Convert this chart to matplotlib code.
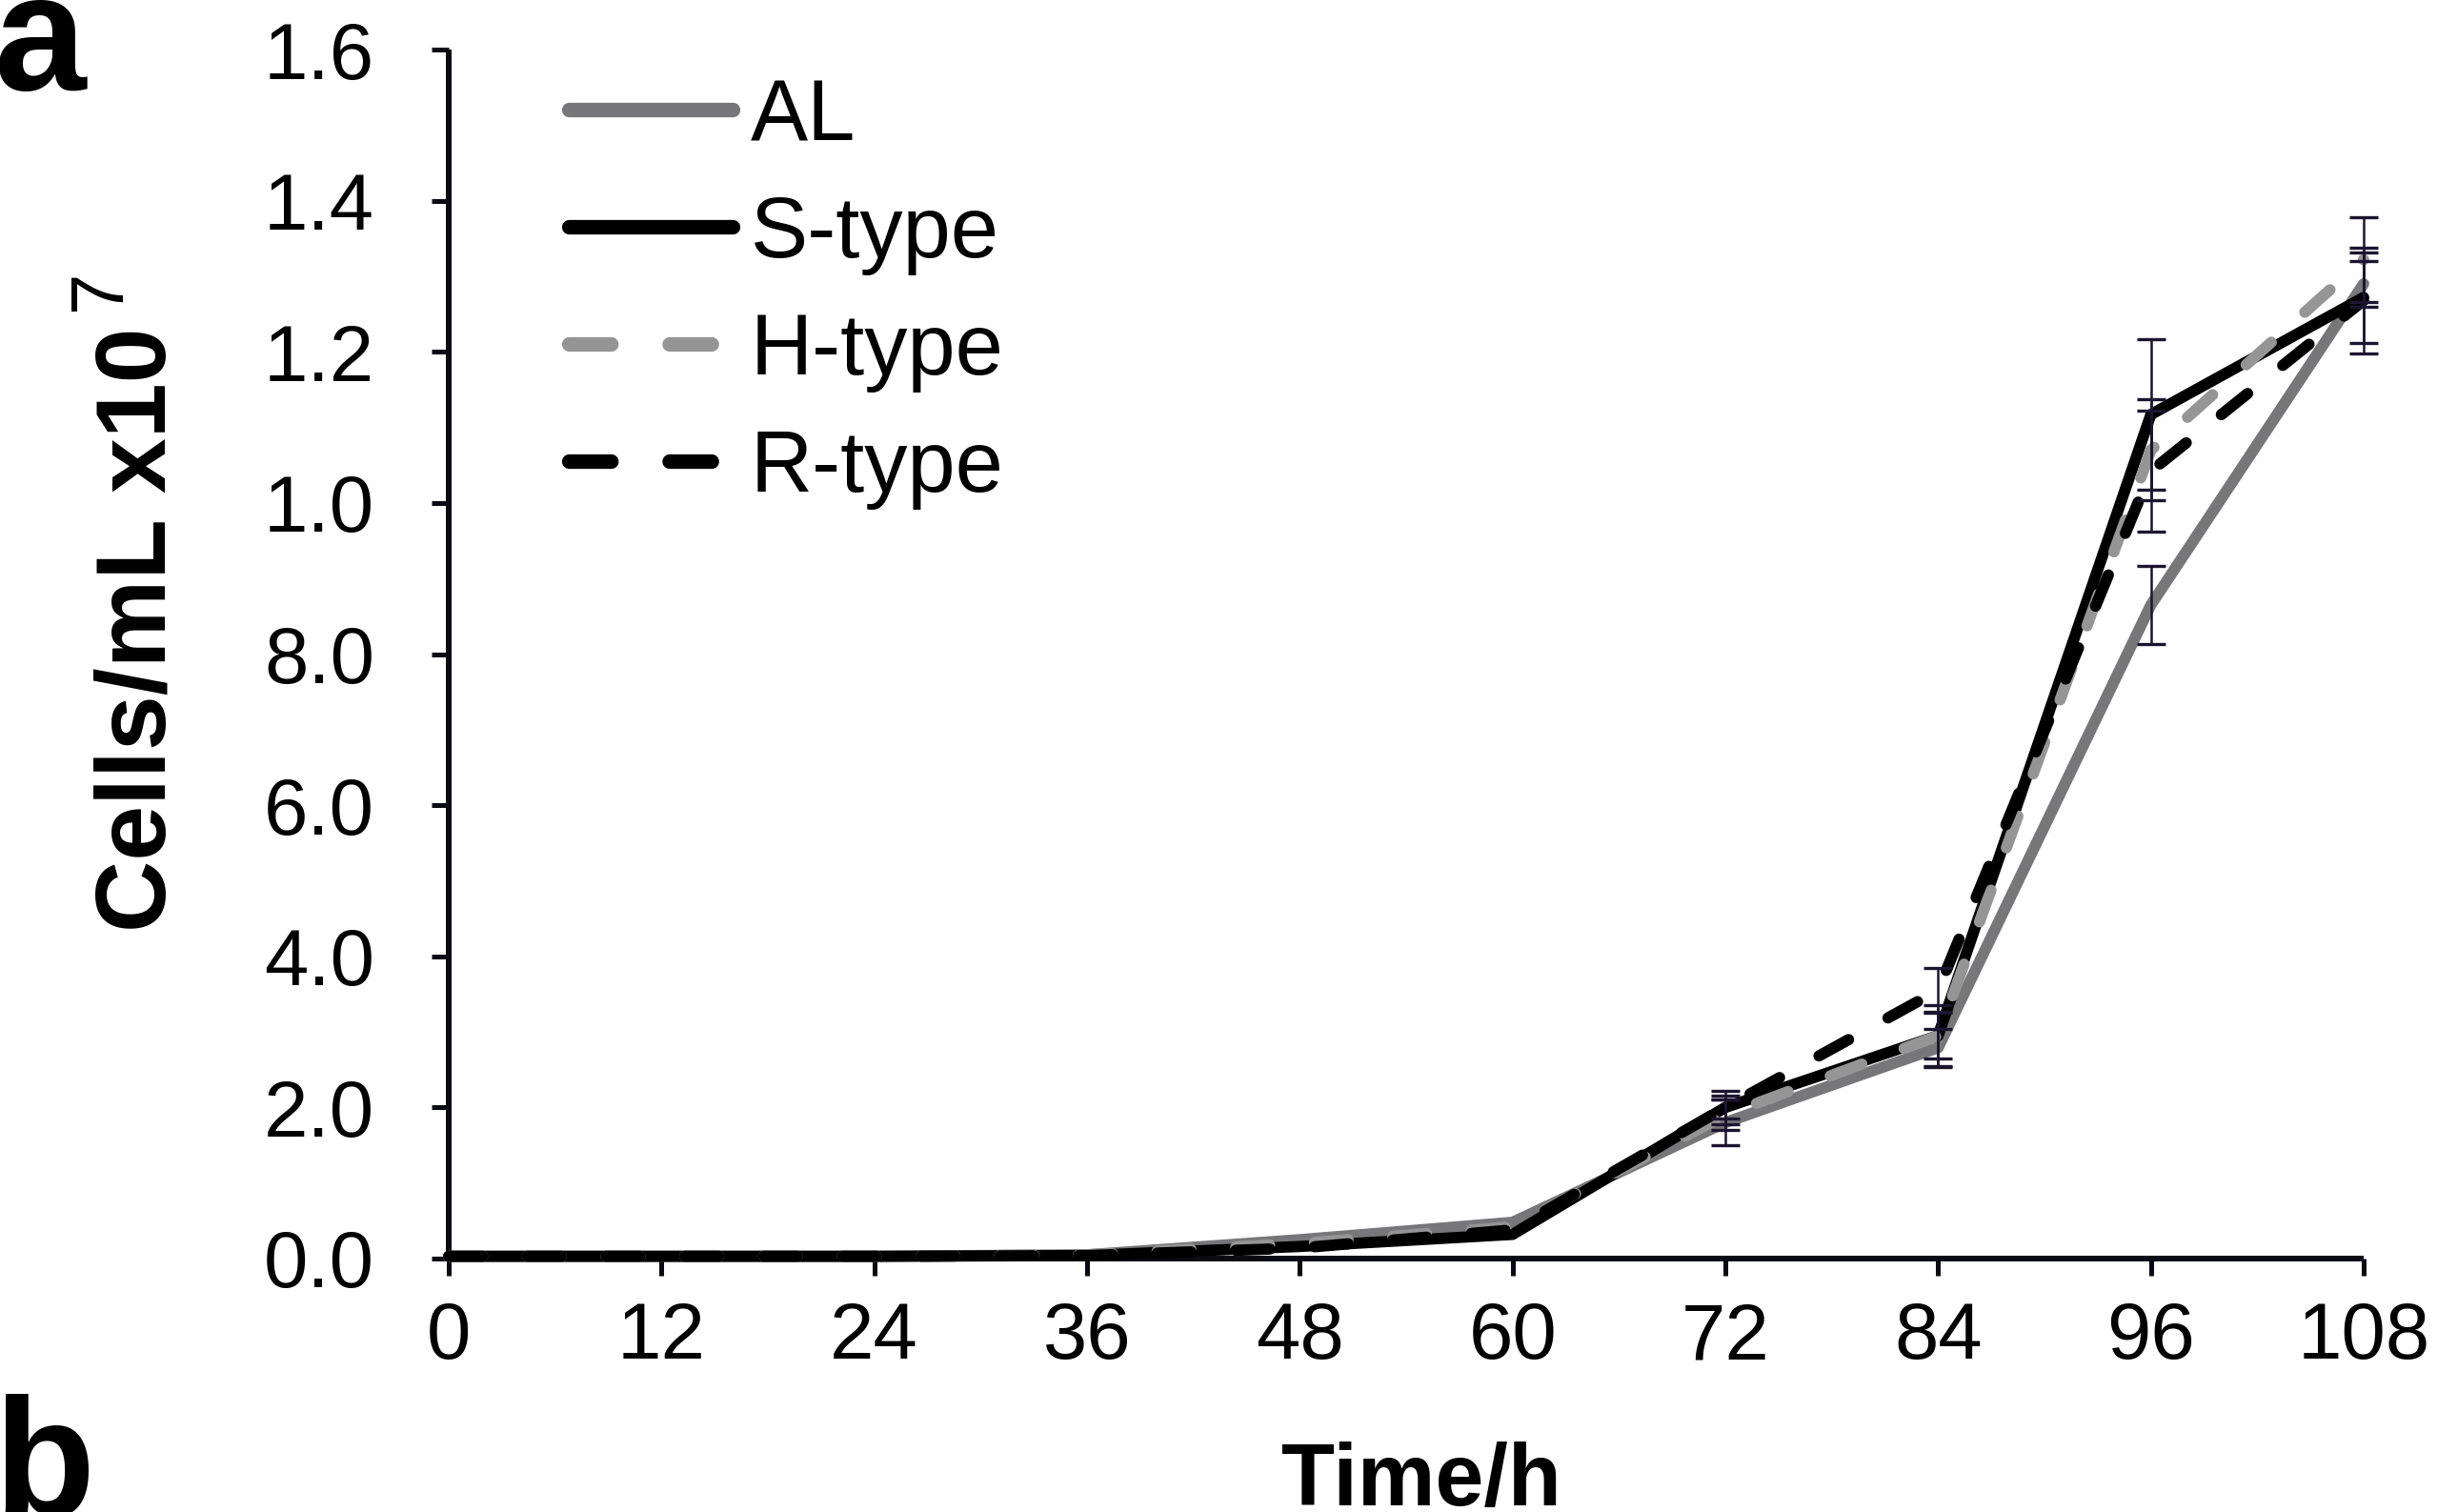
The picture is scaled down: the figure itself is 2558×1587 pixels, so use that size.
import matplotlib
matplotlib.use("Agg")
import matplotlib.pyplot as plt

plt.rcParams['font.family'] = ['Liberation Sans', 'DejaVu Sans']

hours = [0, 12, 24, 36, 48, 60, 72, 84, 96, 108]
x_tick_labels = ['0', '12', '24', '36', '48', '60', '72', '84', '96', '108']
y_ticks = [0, 2, 4, 6, 8, 10, 12, 14, 16]
y_tick_labels = ['0.0', '2.0', '4.0', '6.0', '8.0', '1.0', '1.2', '1.4', '1.6']

series_names = ['AL', 'S-type', 'H-type', 'R-type']
al_vals = [0.03, 0.03, 0.03, 0.05, 0.25, 0.48, 1.8, 2.79, 8.65, 12.9]
s_vals = [0.03, 0.03, 0.03, 0.04, 0.16, 0.32, 2.0, 2.95, 11.17, 12.72]
h_vals = [0.03, 0.03, 0.03, 0.05, 0.2, 0.42, 1.9, 2.95, 10.7, 13.22]
r_vals = [0.03, 0.03, 0.03, 0.04, 0.14, 0.38, 2.0, 3.55, 10.42, 12.68]

al_err = [0, 0, 0, 0, 0, 0, 0.3, 0.25, 0.52, 0.3]
s_err = [0, 0, 0, 0, 0, 0, 0.22, 0.3, 1.0, 0.6]
h_err = [0, 0, 0, 0, 0, 0, 0.2, 0.4, 0.67, 0.56]
r_err = [0, 0, 0, 0, 0, 0, 0.15, 0.29, 0.8, 0.7]

W, H = 2558, 1587
dpi = 100
fig = plt.figure(figsize=(W / dpi, H / dpi), dpi=dpi)
ax = fig.add_axes([471 / W, 1 - 1321 / H, (2481 - 471) / W, (1321 - 52) / H])

styles = [
    dict(color='#777779', ls='-'),
    dict(color='#000000', ls='-'),
    dict(color='#959595', ls=(0, (3, 4))),
    dict(color='#000000', ls=(0, (3, 4))),
]
vals = [al_vals, s_vals, h_vals, r_vals]
errs = [al_err, s_err, h_err, r_err]

for name, v, st in zip(series_names, vals, styles):
    ax.plot(hours, v, color=st['color'], linestyle=st['ls'], lw=8.5,
            solid_capstyle='round', dash_capstyle='round',
            solid_joinstyle='round', label=name, clip_on=False, zorder=3)

for v, e in zip(vals, errs):
    xs = [h for h, ee in zip(hours, e) if ee > 0]
    ys = [y for y, ee in zip(v, e) if ee > 0]
    es = [ee for ee in e if ee > 0]
    ax.errorbar(xs, ys, yerr=es, fmt='none', ecolor='#1c1530', elinewidth=1.8,
                capsize=10.5, capthick=2.4, zorder=4, clip_on=False)

ax.set_xlim(0, 108)
ax.set_ylim(0, 16)
ax.set_xticks(hours)
ax.set_xticklabels(x_tick_labels)
ax.set_yticks(y_ticks)
ax.set_yticklabels(y_tick_labels)

for sp in ['top', 'right']:
    ax.spines[sp].set_visible(False)
for sp in ['left', 'bottom']:
    ax.spines[sp].set_linewidth(4.3)
    ax.spines[sp].set_color('#0a0a14')
    ax.spines[sp].set_capstyle('butt')

ax.tick_params(axis='both', direction='out', length=13, width=3.6,
               color='#0a0a14', labelsize=60)
ax.tick_params(axis='y', pad=43)
ax.tick_params(axis='x', pad=19)

# y-axis title (rotated) with separate superscript 7
fig.text(174 / W, 1 - 344 / H, 'Cells/mL x10', fontsize=75, fontweight='bold',
         rotation=90, rotation_mode='anchor', ha='right', va='baseline')
fig.text(126 / W, 1 - 326 / H, '7', fontsize=56, rotation=90,
         rotation_mode='anchor', ha='left', va='baseline')

# x-axis title
fig.text(1492 / W, 1 - 1580 / H, 'Time/h', fontsize=66, fontweight='bold',
         ha='center', va='baseline')

leg = ax.legend(loc='upper left', bbox_to_anchor=(597 / W, 1 - 81 / H),
                bbox_transform=fig.transFigure, frameon=False, fontsize=65,
                handlelength=1.91, handletextpad=0.2, labelspacing=0.42,
                borderpad=0, borderaxespad=0)
for ll in leg.get_lines():
    ll.set_linewidth(11)
leg.get_lines()[2].set_dashes((2.9, 4.0))
leg.get_lines()[3].set_dashes((2.9, 4.0))

fig.text(-6 / W, 1 - 94 / H, 'a', fontsize=125, fontweight='bold', ha='left', va='baseline')
fig.text(-6 / W, 1 - 1590 / H, 'b', fontsize=125, fontweight='bold', ha='left', va='baseline')

fig.savefig('out.png', dpi=dpi, facecolor='white')
